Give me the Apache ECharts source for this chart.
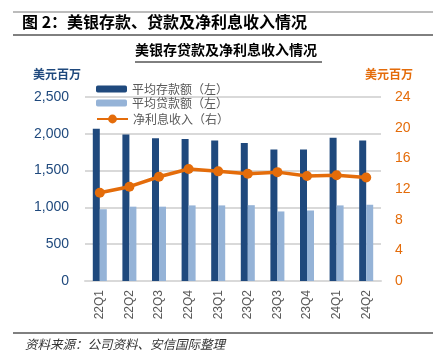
<!DOCTYPE html>
<html>
<head>
<meta charset="utf-8">
<script src="https://cdn.jsdelivr.net/npm/echarts@6/dist/echarts.min.js"></script>
<style>
  html, body { margin: 0; padding: 0; background: #fff; }
  #chart { width: 433px; height: 351px; }
</style>
</head>
<body>
<div id="chart"></div>
<script>
const quarters = ['22Q1', '22Q2', '22Q3', '22Q4', '23Q1', '23Q2', '23Q3', '23Q4', '24Q1', '24Q2'];
const avgDeposits = [2070, 1990, 1940, 1930, 1910, 1875, 1785, 1785, 1945, 1910];
const avgLoans = [975, 1010, 1010, 1027, 1027, 1030, 945, 958, 1027, 1036];
const netInterest = [11.5, 12.3, 13.6, 14.6, 14.3, 14.0, 14.2, 13.7, 13.8, 13.5];

const navy = '#1F497D';
const lightBlue = '#95B3D7';
const orange = '#E46C0A';
const cjk = '"Noto Sans CJK SC", sans-serif';
const latin = '"Liberation Sans", Arial, sans-serif';

const legendText = { color: '#595959', fontSize: 12, lineHeight: 14, fontFamily: cjk };

const chart = echarts.init(document.getElementById('chart'));
const option = {
  animation: false,
  backgroundColor: '#fff',
  grid: { left: 85, right: 52, top: 97, bottom: 70 },
  legend: [
    {
      orient: 'vertical', left: 96, top: 82, padding: 0,
      itemWidth: 31, itemHeight: 7, itemGap: 0,
      textStyle: legendText,
      data: ['平均存款额（左）', '平均贷款额（左）']
    },
    {
      left: 96, top: 112, padding: 0,
      itemWidth: 31, itemHeight: 11,
      textStyle: legendText,
      data: ['净利息收入（右）']
    }
  ],
  xAxis: {
    type: 'category',
    data: quarters,
    axisLine: { lineStyle: { color: '#D9D9D9', width: 2 } },
    axisTick: { show: false },
    axisLabel: { rotate: 90, color: '#595959', fontSize: 12, fontFamily: latin, margin: 9 }
  },
  yAxis: [
    {
      type: 'value', min: 0, max: 2500, interval: 500,
      axisLine: { show: false }, axisTick: { show: false },
      splitLine: { lineStyle: { color: '#D9D9D9', width: 2 } },
      axisLabel: {
        color: navy, fontSize: 14, fontFamily: latin, margin: 16,
        formatter: v => v.toLocaleString('en-US')
      }
    },
    {
      type: 'value', min: 0, max: 24, interval: 4,
      axisLine: { show: false }, axisTick: { show: false },
      splitLine: { show: false },
      axisLabel: { color: orange, fontSize: 14, fontFamily: latin, margin: 14 }
    }
  ],
  series: [
    {
      name: '平均存款额（左）', type: 'bar', data: avgDeposits,
      barWidth: 7, barGap: '0%', itemStyle: { color: navy }
    },
    {
      name: '平均贷款额（左）', type: 'bar', data: avgLoans,
      barWidth: 7, barGap: '0%', itemStyle: { color: lightBlue }
    },
    {
      name: '净利息收入（右）', type: 'line', yAxisIndex: 1, data: netInterest,
      symbol: 'circle', symbolSize: 10,
      lineStyle: { color: orange, width: 3.5 },
      itemStyle: { color: orange }
    }
  ],
  graphic: [
    { type: 'line', shape: { x1: 13, y1: 12, x2: 433, y2: 12 }, style: { stroke: '#A6A6A6', lineWidth: 1.5 } },
    { type: 'line', shape: { x1: 13, y1: 35, x2: 433, y2: 35 }, style: { stroke: '#000', lineWidth: 1 } },
    {
      type: 'text', left: 22, top: 14,
      style: { text: '图 2：美银存款、贷款及净利息收入情况', font: 'bold 16px ' + cjk, fill: '#000' }
    },
    {
      type: 'text', left: 135, top: 43,
      style: { text: '美银存贷款及净利息收入情况', font: 'bold 14px ' + cjk, fill: '#000' }
    },
    { type: 'line', shape: { x1: 135, y1: 62, x2: 322, y2: 62 }, style: { stroke: '#000', lineWidth: 1 } },
    {
      type: 'text', left: 33, top: 68,
      style: { text: '美元百万', font: 'bold 12px ' + cjk, fill: navy }
    },
    {
      type: 'text', left: 365, top: 68,
      style: { text: '美元百万', font: 'bold 12px ' + cjk, fill: orange }
    },
    { type: 'line', shape: { x1: 13, y1: 333, x2: 433, y2: 333 }, style: { stroke: '#000', lineWidth: 1 } },
    {
      type: 'text', left: 25, top: 338,
      style: { text: '资料来源：公司资料、安信国际整理', font: 'italic 12.5px ' + cjk, fill: '#333' }
    }
  ]
};
chart.setOption(option);
</script>
</body>
</html>
